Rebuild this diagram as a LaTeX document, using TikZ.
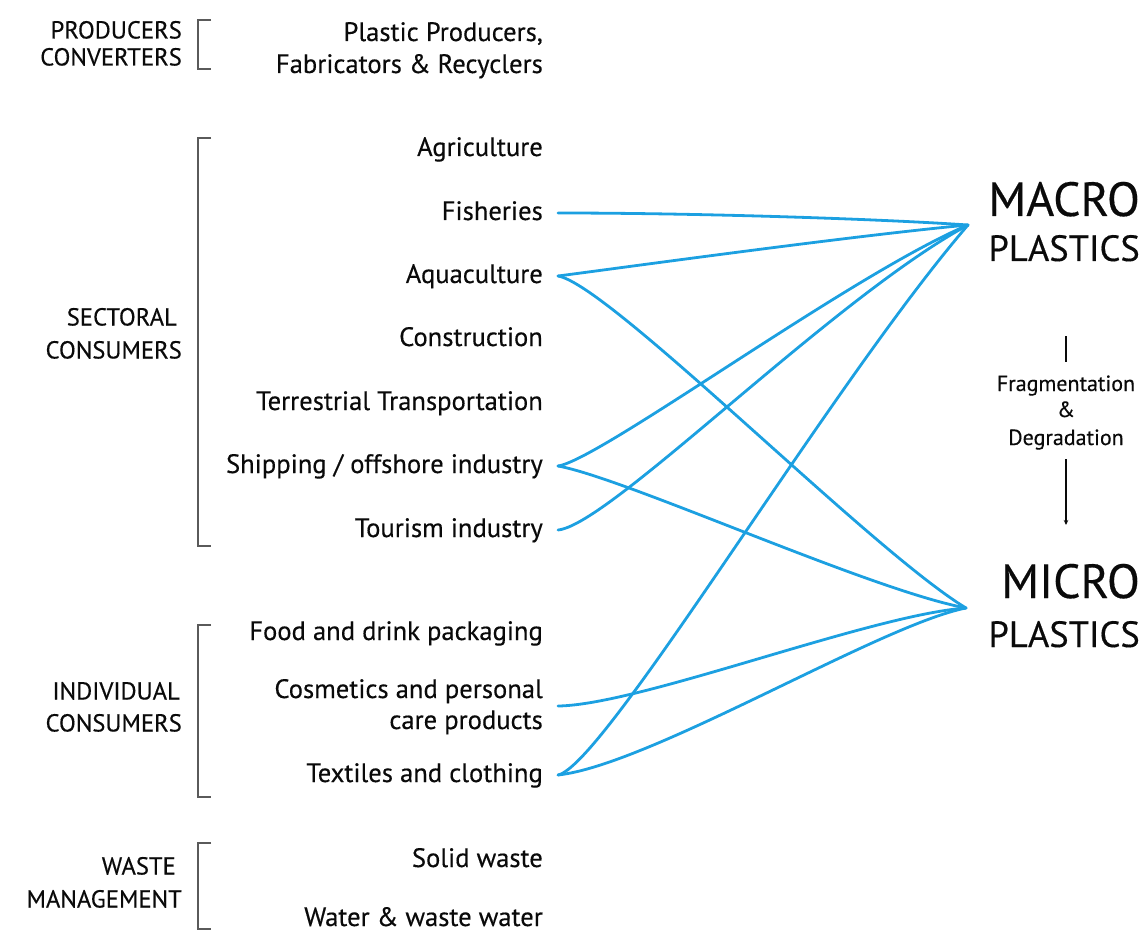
\documentclass[tikz,border=0pt]{standalone}
\usepackage{fontspec}
\setmainfont{PT Sans}[FakeBold=0.35]
\usetikzlibrary{arrows.meta}
\definecolor{flowblue}{RGB}{28,160,225}
\definecolor{brkgray}{RGB}{90,90,90}
\definecolor{ink}{RGB}{10,10,10}
\begin{document}
\begin{tikzpicture}[x=1pt,y=-1pt,
  item/.style={anchor=base east, inner sep=0pt, text=ink, font=\fontsize{26.6}{30}\selectfont},
  grp/.style={anchor=base east, inner sep=0pt, text=ink, font=\fontsize{24.6}{28}\selectfont},
  bigA/.style={anchor=base east, inner sep=0pt, text=ink, font=\fontsize{48}{54}\selectfont},
  bigB/.style={anchor=base east, inner sep=0pt, text=ink, font=\fontsize{36.5}{42}\selectfont},
  proc/.style={anchor=base, inner sep=0pt, text=ink, font=\fontsize{22}{26}\selectfont},
  flow/.style={draw=flowblue, line width=2.8pt, line cap=round},
  brk/.style={draw=brkgray, line width=1.4pt},
  src/.style={xshift=15pt, yshift=7pt}]
\useasboundingbox (0,0) rectangle (1145,933);
% group labels
\node[grp] (g1a) at (182,38.5) {PRODUCERS};
\node[grp] (g1b) at (182,65.5) {CONVERTERS};
\node[grp] (g2a) at (177,325.5) {SECTORAL};
\node[grp] (g2b) at (182,358.5) {CONSUMERS};
\node[grp] (g3a) at (180,699.5) {INDIVIDUAL};
\node[grp] (g3b) at (182,731.5) {CONSUMERS};
\node[grp] (g4a) at (176,874.5) {WASTE};
\node[grp] (g4b) at (182,907.5) {MANAGEMENT};
% brackets
\draw[brk] (211,20) -- (198,20) -- (198,69) -- (211,69);
\draw[brk] (211,138) -- (198,138) -- (198,546) -- (211,546);
\draw[brk] (211,625) -- (198,625) -- (198,797) -- (211,797);
\draw[brk] (211,843) -- (198,843) -- (198,929) -- (211,929);
% items
\node[item] (pp) at (543,41) {Plastic Producers,};
\node[item] (fr) at (543,73) {Fabricators \& Recyclers};
\node[item] (agr) at (543,156) {Agriculture};
\node[item] (fis) at (543,220) {Fisheries};
\node[item] (aqu) at (543,283) {Aquaculture};
\node[item] (con) at (543,346) {Construction};
\node[item] (ter) at (543,410) {Terrestrial Transportation};
\node[item] (shi) at (543,473) {Shipping / offshore industry};
\node[item] (tou) at (543,537) {Tourism industry};
\node[item] (foo) at (543,640) {Food and drink packaging};
\node[item] (cos) at (543,698) {Cosmetics and personal};
\node[item] (car) at (543,729) {care products};
\node[item] (tex) at (543,782) {Textiles and clothing};
\node[item] (sol) at (543,867) {Solid waste};
\node[item] (wat) at (543,926) {Water \& waste water};
% right side
\node[bigA] (macro) at (1140,216) {MACRO};
\node[bigB] (macropl) at (1140,261) {PLASTICS};
\node[bigA] (micro) at (1140,598) {MICRO};
\node[bigB] (micropl) at (1140,647) {PLASTICS};
\node[proc] (fr1) at (1066,391) {Fragmentation};
\node[proc] (fr2) at (1066,417) {\&};
\node[proc] (fr3) at (1066,445) {Degradation};
\draw[ink, line width=1.3pt] (1066,336) -- (1066,362);
\draw[ink, line width=1.3pt, -{Stealth[length=5pt,width=4.5pt]}] (1066,459) -- (1066,525);
% convergence points
\coordinate (macroIn) at (968,225);
\coordinate (microIn) at (966,608);
\coordinate (fisS) at ([src]fis.base east);
\coordinate (aquS) at ([src]aqu.base east);
\coordinate (shiS) at ([src]shi.base east);
\coordinate (touS) at ([src]tou.base east);
\coordinate (cosS) at (558,706);
\coordinate (texS) at ([src]tex.base east);
% flows
\draw[flow] (fisS) .. controls (700,213) and (880,219) .. (macroIn);
\draw[flow] (aquS) .. controls (620,268) and (850,236) .. (macroIn);
\draw[flow] (aquS) .. controls (610,285) and (870,550) .. (microIn);
\draw[flow] (shiS) .. controls (600,460) and (850,275) .. (macroIn);
\draw[flow] (shiS) .. controls (625,478) and (870,590) .. (microIn);
\draw[flow] (touS) .. controls (610,525) and (830,300) .. (macroIn);
\draw[flow] (cosS) .. controls (640,705) and (870,615) .. (microIn);
\draw[flow] (texS) .. controls (605,765) and (830,385) .. (macroIn);
\draw[flow] (texS) .. controls (650,765) and (880,625) .. (microIn);
\end{tikzpicture}
\end{document}
